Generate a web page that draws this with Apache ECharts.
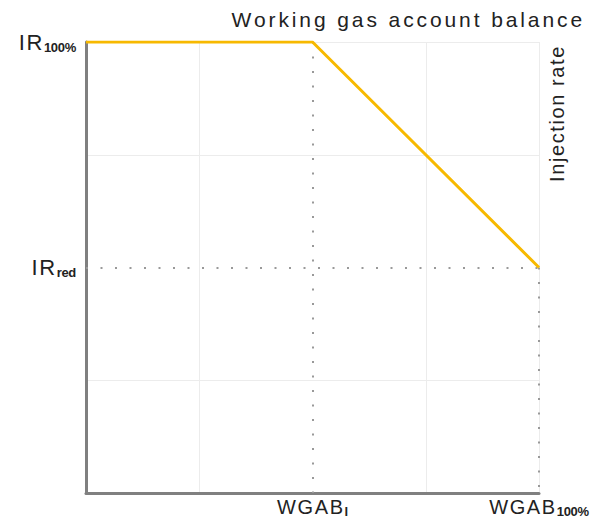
<!DOCTYPE html>
<html>
<head>
<meta charset="utf-8">
<script src="https://cdn.jsdelivr.net/npm/echarts@6/dist/echarts.min.js"></script>
<style>
  html, body { margin: 0; padding: 0; background: #fff; }
  #main { width: 593px; height: 522px; }
  /* the reference text is set loosely, subscripts are tight */
  #main svg text { letter-spacing: 1.6px; }
  #main svg text[style*="21px"] { letter-spacing: 2.9px; }
  #main svg text[style*="bold"] { letter-spacing: -0.3px; }
</style>
</head>
<body>
<div id="main"></div>
<script>
// balance (x) vs injection rate (y), both in grid units 0..4
var xPoints = [0, 2, 4]
var yPoints = [4, 4, 2]
var xTickLabels = { 2: ['WGAB', 'l'], 4: ['WGAB', '100%'] }
var yTickLabels = { 4: ['IR', '100%'], 2: ['IR', 'red'] }
var guideX = 2
var guideY = 2

var font = 'Liberation Sans, Arial, sans-serif'
var splitColors = ['#ececec', '#ececec', 'rgba(0,0,0,0)', '#ececec', '#ececec']

// measure with the same spacing that the css gives the svg text
var mctx = document.createElement('canvas').getContext('2d')
echarts.setPlatformAPI({
  measureText: function (text, f) {
    mctx.font = f
    if (/bold/.test(f)) mctx.letterSpacing = '-0.3px'
    else if (/21px/.test(f)) mctx.letterSpacing = '2.9px'
    else mctx.letterSpacing = '1.6px'
    return mctx.measureText(text)
  }
})

function tickText(map, v) {
  var t = map[v]
  if (!t) return ''
  return '{m|' + t[0] + '}{s|' + t[1] + '}'
}

var richStyle = {
  m: { fontSize: 20, color: '#222', fontFamily: font, lineHeight: 22 },
  s: { fontSize: 13, color: '#222', fontFamily: font, fontWeight: 'bold', lineHeight: 22, padding: [9, 0, 0, 0] }
}
var yRich = {
  m: { fontSize: 22, color: '#222', fontFamily: font, lineHeight: 24 },
  s: { fontSize: 13, color: '#222', fontFamily: font, fontWeight: 'bold', lineHeight: 24, padding: [10, 0, 0, 0] }
}

var chart = echarts.init(document.getElementById('main'), null, { renderer: 'svg' })
var lineData = xPoints.map(function (x, i) { return [x, yPoints[i]] })

chart.setOption({
  animation: false,
  grid: { left: 86, right: 54, top: 42, bottom: 29 },
  graphic: [{
    type: 'text',
    right: 8,
    top: 8,
    style: { text: 'Working gas account balance', font: '21px ' + font, fill: '#222' }
  }, {
    type: 'text',
    x: 546,
    y: 182,
    rotation: Math.PI / 2,
    style: { text: 'Injection rate', font: '20px ' + font, fill: '#222' }
  }],
  xAxis: {
    type: 'value',
    min: 0,
    max: 4,
    interval: 1,
    axisLine: { lineStyle: { color: '#808080', width: 3 } },
    axisTick: { show: false },
    splitLine: { lineStyle: { color: splitColors, width: 1 } },
    axisLabel: {
      margin: 3,
      formatter: function (v) { return tickText(xTickLabels, v) },
      rich: richStyle
    }
  },
  yAxis: {
    type: 'value',
    min: 0,
    max: 4,
    interval: 1,
    axisLine: { show: true, lineStyle: { color: '#808080', width: 3 } },
    axisTick: { show: false },
    splitLine: { lineStyle: { color: splitColors, width: 1 } },
    axisLabel: {
      margin: 10,
      formatter: function (v) { return tickText(yTickLabels, v) },
      rich: yRich
    }
  },
  series: [{
    type: 'line',
    data: lineData,
    symbol: 'none',
    lineStyle: { color: '#f7b900', width: 3 },
    z: 5,
    markLine: {
      silent: true,
      symbol: 'none',
      label: { show: false },
      lineStyle: { color: '#999', width: 2, type: [2, 12.5] },
      data: [
        [{ coord: [guideX, 4] }, { coord: [guideX, 0] }],
        [{ coord: [0, guideY] }, { coord: [4, guideY] }],
        [{ coord: [4, guideY] }, { coord: [4, 0] }]
      ]
    }
  }]
})
</script>
</body>
</html>
